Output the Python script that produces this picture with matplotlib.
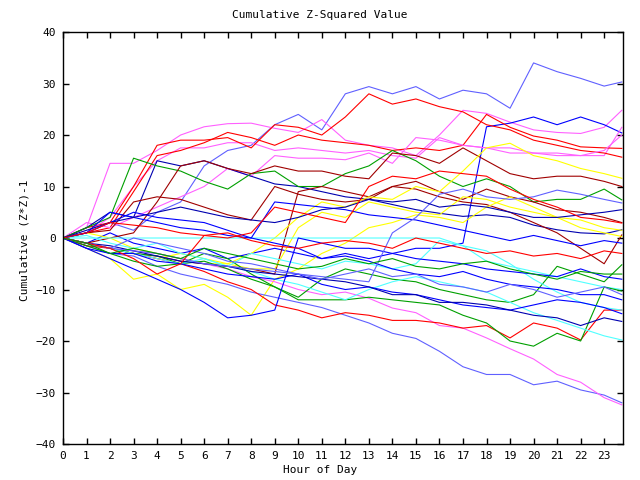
"""
Cumulative Z-squared value per hour, one line per series
"""
import matplotlib
matplotlib.use("Agg")
import matplotlib.pyplot as plt

hours = list(range(24)) + [23.75]

# values read hour by hour from the reference (last value at 23:45)
s01 = [0, 1, 3, 1.5, 5, 7, 14, 17, 18, 22, 24, 21, 28, 29.4, 28, 29.4, 27, 28.7, 28, 25.2, 34, 32.3, 31, 29.5, 30.3]
s02 = [0, 2, 14.5, 14.5, 17, 20, 21.6, 22.2, 22.3, 21.3, 20.5, 23, 19, 18, 17.5, 16, 20, 24.8, 24.2, 22.5, 21, 20.5, 20.3, 21.5, 24.8]
s03 = [0, -1, 1, -1, -2, -3, -2, -4, -3, -2, -3, -4, -3, -4, -3, -2, -2, -1, 21.6, 22.3, 23.5, 22, 23.5, 22, 20.4]
s04 = [0, 1, 4, 10, 15, 17.5, 17.5, 18.5, 18.5, 17, 17.5, 17, 16.5, 17, 16, 15.5, 19.5, 18, 17.5, 16.5, 16.5, 16.5, 16, 16, 21.5]
s05 = [0, 2, 3, 10, 18, 19, 19, 19.5, 17.5, 22, 21.5, 20, 23.5, 28, 26, 27, 25.5, 24.5, 22, 21, 19, 18, 17, 16.5, 15.7]
s06 = [0, 1, 2, 9, 16, 17, 18.5, 20.5, 19.5, 18, 20, 19, 18.5, 18, 17, 17.5, 17, 18, 24, 21.5, 19.8, 19, 17.7, 17.5, 17.4]
s07 = [0, 3, 2, 4, 6, 8, 10, 13.5, 12, 16, 15.5, 15.5, 15.2, 16.5, 14.5, 19.5, 19, 18, 17.5, 17.5, 16.5, 16, 16, 17, 20]
s08 = [0, 2, 5, 4, 15, 14, 15, 13.5, 12, 10.5, 10, 9, 8, 7.5, 6.5, 5.5, 4.8, 4.2, 4.5, 4, 2.5, 1.6, 1, 0.8, 1.6]
s09 = [0, 2, 4, 15.5, 14, 13, 11, 9.5, 12.5, 13, 10, 10, 12.5, 14, 17, 15, 12, 10, 11.5, 10, 7, 7.5, 7.5, 9.5, 7.4]
s10 = [0, -1, 0, 1, 7, 14, 15, 13.5, 12.5, 14, 13, 13, 12, 11.5, 16.5, 16, 14.5, 17.5, 15, 12.5, 11.5, 12, 12, 11, 10]
s11 = [0, 1, 1.5, 7, 8, 7.5, 6, 4.5, 3.5, 10, 8.5, 7.5, 7, 7.5, 10, 9.5, 8, 7, 6.5, 5, 3, 1, -2, -5, 0.6]
s12 = [0, -1, -2, -3, -3.5, -4.5, -5, -5.5, -6, -7, 9, 10, 9, 8, 10, 11, 9, 7.5, 9.5, 8, 7, 5.5, 5, 4, 3]
s13 = [0, -1, -2, -3, -4, -3, -4, -5, -3, 0, 4, 7, 6, 8, 7.5, 10, 9, 13, 17.5, 18.4, 16, 15, 13.5, 12.5, 11.6]
s14 = [0, -2, -4, -8, -7, -10, -9, -11.5, -15, -8, -6, -3, -1, 2, 3, 4.5, 4, 3, 6, 8, 6, 4, 2, 1, 0.3]
s15 = [0, 1, 0, -2, -3, -4, -5, -5, -6, -6, 2, 5, 4, 7, 6, 5, 4.5, 8, 7.5, 6, 5, 4, 3.5, 2, 1.5]
s16 = [0, 0, 0, 0, 0, 0, 0, 0, 0, 0, 0, 0, 0, 0, 0, 0, 0, -1.5, -4.5, -5.5, -6.5, -7.5, -8.5, -9.5, -10]
s17 = [0, -1.5, -3, -3.5, -5.5, -7, -8, -9, -10.5, -11.5, -12.5, -13.5, -15, -16.5, -18.5, -19.5, -22, -25, -26.5, -26.5, -28.5, -27.8, -29.5, -30.5, -32]
s18 = [0, -1, -2, -2.5, -3, -4, -5, -6, -7.5, -8.5, -10, -11, -10.5, -11.7, -13.6, -14.5, -17, -17.5, -19.4, -21.5, -23.5, -26.5, -28, -31, -32.4]
s19 = [0, -1.5, -2, -3, -4, -5, -6.5, -8.5, -10, -13, -14, -15.5, -14.5, -15, -16, -16, -16.5, -17.5, -17, -19.4, -16.5, -17.5, -19.8, -14, -14]
s20 = [0, -1, -2, -3, -3.5, -5, -3, -4, -7, -9.5, -12, -12, -12, -11.5, -12, -12.5, -13, -15, -16.5, -20, -21, -18.5, -20, -9.5, -10.3]
s21 = [0, -1.5, -3, -4.5, -5.5, -5, -4.5, -6, -8, -9.5, -11.5, -8, -6, -7, -8, -8.5, -10, -11, -12, -12.5, -11, -5.5, -7, -8.5, -5.2]
s22 = [0, -1, -2, -3, -4, -5, -4, -5.5, -6.5, -8, -9, -10.5, -12, -10, -8.5, -7.5, -8.5, -9.5, -10.5, -12.5, -14.5, -16, -17.5, -19, -19.8]
s23 = [0, 0.5, -1, -2, -1, -3, -4, -5.5, -3, -4, -5, -6, -4.5, -5, -6, -5, -0.5, -1.5, -2.5, -5, -8, -10.5, -12.5, -13.5, -14]
s24 = [0, -2, -3, -3, -4.5, -5, -6, -7, -7.5, -8, -7, -9, -10, -9.5, -10.5, -11, -12, -13, -13.5, -14, -13, -12, -12.5, -13.5, -14.7]
s25 = [0, -1, -1.5, -2.5, -3.5, -4.5, -5, -5.5, -6.5, -7, -7.5, -8, -8.5, -9.5, -11, -11, -12.5, -12.5, -13, -14, -15, -15.5, -17, -15.5, -16.2]
s26 = [0, 1, 3, 5, 4, 3.5, 3, 1.5, 0, -1, -2, -4, -3.5, -4.5, -6, -7, -7.5, -6.5, -8, -9, -9.5, -10, -11, -11, -12]
s27 = [0, -1, -2, 0, -1, -2, -3, -4.5, -5, -6, -7, -8, -7, -6, -7.5, -7, -9, -9.5, -10.5, -9, -10, -11.5, -10.5, -9.5, -11]
s28 = [0, -2, -4, -6, -8, -10, -12.5, -15.5, -15, -14, 0, -1, -2, -2, -3, -4, -4.5, -5, -6, -6.5, -7, -7.5, -6, -7.5, -8]
s29 = [0, 1, 5, 4, 3, 2, 1.5, 0.5, 0, 7, 6.5, 6, 5.5, 4.5, 4, 3.5, 2.5, 1.5, 0.5, -0.5, 0.5, -0.5, -1.5, -0.5, -1]
s30 = [0, -1, -2, -2.5, -3, -4, -5, -5.5, -6, -6.5, -7, -7.5, -8, -8.5, 1, 4, 8.5, 9.5, 8, 7.5, 8, 9.3, 8.5, 7.5, 6.8]
s31 = [0, 1.5, 3, 4, 5, 6, 5, 4, 3.5, 3, 4, 5.5, 6, 7.5, 7, 7.5, 6, 6.5, 6, 5, 4, 4, 4.5, 5, 5.5]
s32 = [0, 1, 3, 2.5, 2, 1, 0.5, 0, 1, 6, 5, 4, 3, 10, 12, 11.5, 13, 12.5, 12, 9.5, 7.5, 6, 4, 3.5, 2.9]
s33 = [0, -1, -2, -4, -7, -5, 0.5, 1, -0.5, -1.5, -2, -1, -0.5, -1, -2, 0, -1, -2, -3, -2.5, -3.5, -3, -4, -2.5, -3]
s34 = [0, -1, -3, -2, -3, -4, -2, -3, -4, -5, -6, -5.5, -4, -5, -4, -5.5, -6, -5, -4.5, -6, -7, -8, -6.5, -7, -7]

series = [s01, s02, s03, s04, s05, s06, s07, s08, s09, s10, s11, s12,
          s13, s14, s15, s16, s17, s18, s19, s20, s21, s22, s23, s24,
          s25, s26, s27, s28, s29, s30, s31, s32, s33, s34]

red, green, blue, magenta = '#ff0000', '#00a000', '#0000ff', '#ff60ff'
cyan, darkred, yellow, ltblue, navy = '#50ffff', '#a00000', '#ffff00', '#6060ff', '#0000b0'
colors = [ltblue, magenta, blue, magenta, red, red, magenta, navy, green, darkred,
          darkred, darkred, yellow, yellow, yellow, cyan, ltblue, magenta, red, green,
          green, cyan, cyan, blue, navy, blue, ltblue, blue, blue, ltblue,
          navy, red, red, green]

plt.rcParams['font.family'] = 'DejaVu Sans Mono'
plt.rcParams['font.size'] = 8

fig = plt.figure(figsize=(6.4, 4.8), dpi=100)
ax = fig.add_axes([0.0984, 0.075, 0.875, 0.8583])

for s, c in zip(series, colors):
    ax.plot(hours, s, color=c, lw=0.8)

ax.set_xlim(0, 23.8)
ax.set_ylim(-40, 40)
ax.set_xticks(range(24))
ax.set_yticks(range(-40, 41, 10))
ax.tick_params(direction='in', length=4.5, width=1, top=True, right=True,
               labelsize=8, pad=5)
for sp in ax.spines.values():
    sp.set_linewidth(1)

fig.text(0.5, 0.968, 'Cumulative Z-Squared Value', ha='center', va='center', fontsize=8)
fig.text(0.5, 0.021, 'Hour of Day', ha='center', va='center', fontsize=8)
fig.text(0.039, 0.5, 'Cumulative (Z*Z)-1', ha='center', va='center', rotation=90, fontsize=8)

fig.savefig('out.png', dpi=100)
